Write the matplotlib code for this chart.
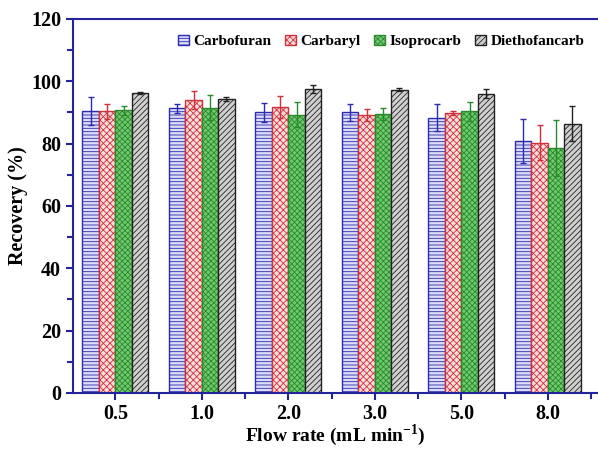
import matplotlib.pyplot as plt
import numpy as np

plt.rcParams['font.family'] = ['Liberation Serif', 'DejaVu Serif']
plt.rcParams['font.weight'] = 'bold'
plt.rcParams['mathtext.fontset'] = 'custom'
plt.rcParams['mathtext.rm'] = 'Liberation Serif:bold'
plt.rcParams['mathtext.bf'] = 'Liberation Serif:bold'
plt.rcParams['hatch.linewidth'] = 0.6

flow_rates = ['0.5', '1.0', '2.0', '3.0', '5.0', '8.0']
compounds = ['Carbofuran', 'Carbaryl', 'Isoprocarb', 'Diethofancarb']

carbofuran = [90.3, 91.3, 90.0, 90.0, 88.3, 80.8]
carbofuran_err = [4.5, 1.5, 3.0, 2.8, 4.3, 7.0]
carbaryl = [90.3, 94.0, 91.8, 89.2, 89.8, 80.3]
carbaryl_err = [2.5, 3.0, 3.5, 2.0, 0.5, 5.7]
isoprocarb = [90.7, 91.5, 89.2, 89.5, 90.3, 78.6]
isoprocarb_err = [1.5, 4.0, 4.0, 2.0, 3.0, 9.0]
diethofancarb = [96.2, 94.3, 97.5, 97.3, 96.0, 86.3]
diethofancarb_err = [0.3, 0.5, 1.2, 0.5, 1.5, 5.6]

values = [carbofuran, carbaryl, isoprocarb, diethofancarb]
errors = [carbofuran_err, carbaryl_err, isoprocarb_err, diethofancarb_err]

edge_colors = ['#2b2bb0', '#d0303a', '#2a8a2a', '#222222']
face_colors = ['#dcdcf6', '#fadcdc', '#70c870', '#d0d0d0']
hatches = ['-----', 'xxxxx', 'xxxxxx', '//////']
axis_color = '#23239a'

fig = plt.figure(figsize=(5.98, 4.51), dpi=100)
ax = fig.add_axes([0.122, 0.129, 0.878, 0.829])

x = np.arange(len(flow_rates))
width = 0.19
for i in range(4):
    pos = x + (i - 1.5) * width
    ax.bar(pos, values[i], width, color=face_colors[i], edgecolor=edge_colors[i],
           hatch=hatches[i], linewidth=1.0, label=compounds[i])
    ax.errorbar(pos, values[i], yerr=errors[i], fmt='none', ecolor=edge_colors[i],
                elinewidth=1.0, capsize=2, capthick=1.0)

ax.set_xlim(-0.49, 5.58)
ax.set_ylim(0, 120)
ax.set_xticks(x)
ax.set_xticklabels(flow_rates)
ax.set_xticks(x + 0.5, minor=True)
ax.set_yticks(np.arange(0, 121, 20))
ax.set_yticks(np.arange(10, 120, 20), minor=True)

for side in ['left', 'top', 'bottom']:
    ax.spines[side].set_color(axis_color)
    ax.spines[side].set_linewidth(1.5)
ax.spines['right'].set_visible(False)
ax.tick_params(which='both', direction='out', color=axis_color, width=1.5,
               labelsize=14.5, top=False, right=False)
ax.tick_params(which='major', length=5)
ax.tick_params(which='minor', length=4)
ax.tick_params(axis='x', pad=3)

ax.set_xlabel('Flow rate (mL min$^{-1}$)', fontsize=14, fontweight='bold', labelpad=-1)
ax.set_ylabel('Recovery (%)', fontsize=14.5, fontweight='bold', labelpad=2)

ax.legend(loc='upper right', ncol=4, frameon=False,
          handlelength=0.7, handleheight=0.7, handletextpad=0.3, columnspacing=0.9,
          bbox_to_anchor=(1.0, 0.995), prop={'weight': 'bold', 'size': 11})

plt.savefig('out.png', dpi=100)
